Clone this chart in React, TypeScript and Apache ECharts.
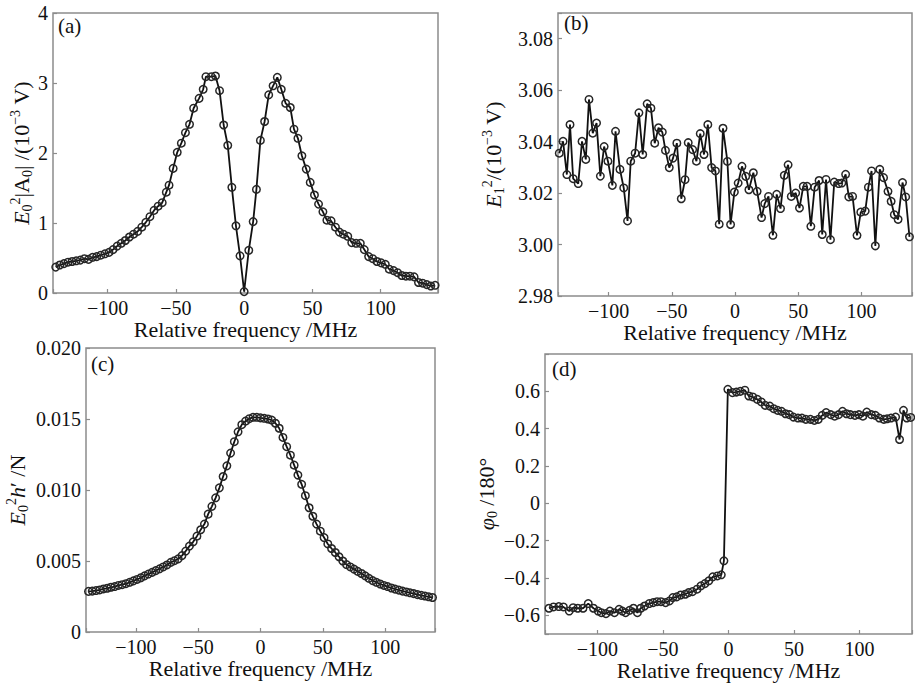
import React, { useEffect, useRef } from "react";
import * as echarts from "echarts";

const FONT = "Liberation Serif";
const GRIDC = "#8c8c8c";
const TXT = "#111";

// Panel (a): E0^2|A0| (10^-3 V) vs relative frequency (MHz)
const panelA: [number, number][] = [
  [-138, 0.37], [-135, 0.4], [-132, 0.42], [-129, 0.44], [-126, 0.45], [-123, 0.46], [-120, 0.47],
  [-117, 0.49], [-114, 0.48], [-111, 0.51], [-108, 0.52], [-105, 0.54], [-102, 0.56], [-99, 0.58],
  [-96, 0.62], [-93, 0.67], [-90, 0.71], [-87, 0.75], [-84, 0.8], [-81, 0.84], [-78, 0.88],
  [-75, 0.94], [-72, 1.01], [-69, 1.09], [-66, 1.18], [-63, 1.24], [-60, 1.29], [-57, 1.44],
  [-55, 1.54], [-52, 1.78], [-49, 2.01], [-46, 2.14], [-43, 2.29], [-40, 2.41], [-37, 2.64],
  [-33, 2.78], [-30, 2.91], [-28, 3.09], [-24, 3.09], [-21, 3.1], [-18, 2.89], [-15, 2.4],
  [-12, 2.11], [-9, 1.51], [-6, 0.96], [-3, 0.53], [0, 0.02], [3.4, 0.61], [6.6, 1.02],
  [9, 1.48], [11.9, 2.18], [15, 2.45], [18, 2.83], [21.2, 2.96], [24.3, 3.08], [27.2, 2.91],
  [30.4, 2.71], [33.8, 2.65], [36.5, 2.34], [39.4, 2.21], [42.3, 1.96], [45.5, 1.77], [48.4, 1.58],
  [51.5, 1.4], [54.5, 1.27], [57.7, 1.16], [60.6, 1.04], [63.7, 1.03], [66.9, 0.94], [69.8, 0.87],
  [72.7, 0.84], [75.9, 0.81], [78.8, 0.72], [82, 0.71], [85.1, 0.71], [88, 0.62], [91.2, 0.52],
  [94.2, 0.49], [97.3, 0.45], [100.4, 0.43], [103.4, 0.41], [106.3, 0.34], [109.5, 0.32],
  [112.4, 0.29], [115.5, 0.25], [118.5, 0.24], [121.4, 0.24], [124.5, 0.23], [127.7, 0.15],
  [130.7, 0.14], [133.8, 0.12], [136.7, 0.1], [139.9, 0.11],
];

// Panel (b): E1^2 (10^-3 V)
const freqB = [
  -139, -136, -133, -130.5, -128, -124, -121, -118, -115.5, -112.5, -109.5, -106.5, -103.5, -100.5,
  -97, -94.5, -91, -88, -85, -82.5, -79, -76, -73, -69.5, -66.5, -63.5, -60.5, -57.5, -55, -52, -49,
  -46, -42.5, -39.5, -37, -33.5, -30.5, -27.5, -24.5, -21.5, -18.5, -15.5, -12.5, -9.5, -6, -3.5,
  -0.5, 2.5, 5.5, 8.5, 11, 14.5, 17.5, 21, 23.5, 26.5, 30, 33, 36, 39, 42, 44.5, 48, 51, 54, 57, 60,
  63, 66.5, 69, 72, 75.5, 78.5, 82, 84.5, 87.5, 90, 93, 96.5, 99.5, 103, 105.5, 108, 111, 114.5,
  117.5, 121, 123.5, 126, 129, 132.5, 135, 138,
];
const valB = [
  3.0355, 3.0401, 3.0272, 3.0466, 3.0256, 3.0237, 3.0401, 3.0331, 3.0564, 3.0433, 3.0472, 3.0266,
  3.0381, 3.0324, 3.023, 3.044, 3.0292, 3.022, 3.0092, 3.0324, 3.0355, 3.0512, 3.035, 3.0547, 3.053,
  3.0394, 3.0454, 3.0437, 3.0366, 3.0299, 3.0336, 3.0394, 3.0178, 3.0252, 3.0396, 3.0369, 3.0324,
  3.0431, 3.035, 3.0466, 3.0299, 3.0286, 3.0079, 3.0452, 3.0323, 3.0078, 3.0204, 3.0239, 3.0304,
  3.0265, 3.0213, 3.0279, 3.0207, 3.0105, 3.0159, 3.0187, 3.0036, 3.0195, 3.014, 3.0269, 3.031,
  3.0187, 3.02, 3.0142, 3.0226, 3.0226, 3.0071, 3.0223, 3.0249, 3.0039, 3.0253, 3.0019, 3.0243,
  3.0237, 3.0239, 3.0273, 3.0185, 3.0187, 3.0036, 3.0126, 3.013, 3.0223, 3.0286, 2.9995, 3.0292,
  3.026, 3.0207, 3.0168, 3.0116, 3.0098, 3.0241, 3.0185, 3.003,
];

// Panel (c): E0^2 h' (V)
const freqC = [
  -138, -135, -132, -129, -126, -123, -120, -117, -114, -111, -108, -105, -102, -99, -96, -93, -90,
  -87, -84, -81, -78, -75, -72, -69, -66, -63, -60, -57, -54, -51, -48, -45, -42, -39, -36, -33, -30,
  -27, -24, -21, -18, -15, -12, -9, -6, -3, 0, 3, 6, 9, 12, 15, 18, 21, 24, 27, 30, 33, 36, 39, 42,
  45, 48, 51, 54, 57, 60, 63, 66, 69, 72, 75, 78, 81, 84, 87, 90, 93, 96, 99, 102, 105, 108, 111,
  114, 117, 120, 123, 126, 129, 132, 135, 138,
];
const valC = [
  0.00286, 0.00288, 0.00292, 0.00296, 0.00303, 0.00308, 0.00315, 0.0032, 0.00328, 0.00333, 0.0034,
  0.0035, 0.0036, 0.0037, 0.00382, 0.00395, 0.00408, 0.0042, 0.00432, 0.00445, 0.00458, 0.00472,
  0.0049, 0.00502, 0.00515, 0.00538, 0.0057, 0.00605, 0.00635, 0.00675, 0.0072, 0.0076, 0.0083,
  0.00885, 0.00945, 0.01015, 0.01095, 0.0117, 0.0126, 0.0134, 0.0141, 0.0146, 0.01485, 0.01502,
  0.01512, 0.01512, 0.01508, 0.01505, 0.015, 0.01492, 0.0147, 0.01435, 0.0137, 0.01305, 0.01245,
  0.01175, 0.01105, 0.0104, 0.0096, 0.00875, 0.00815, 0.0076, 0.0071, 0.00665, 0.0062, 0.00588,
  0.0056, 0.0053, 0.005, 0.00475, 0.00458, 0.00443, 0.00427, 0.00412, 0.00395, 0.00378, 0.00362,
  0.0035, 0.00338, 0.00328, 0.0032, 0.0031, 0.00302, 0.00295, 0.00288, 0.00282, 0.00276, 0.0027,
  0.00263, 0.00258, 0.00253, 0.00248, 0.00243,
];

// Panel (d): phi0 (/180 deg)
const panelD: [number, number][] = [
  [-137, -0.562], [-133.5, -0.555], [-129.5, -0.553], [-126, -0.555], [-121.5, -0.577],
  [-118.5, -0.559], [-115, -0.562], [-111, -0.562], [-107, -0.537], [-103, -0.562], [-99.5, -0.577],
  [-97, -0.586], [-93.5, -0.591], [-90.5, -0.577], [-87, -0.586], [-83.5, -0.568], [-81, -0.577],
  [-78.5, -0.586], [-75.5, -0.573], [-72.5, -0.562], [-69.5, -0.586], [-67, -0.562], [-64, -0.55],
  [-60.5, -0.537], [-57.5, -0.532], [-54.5, -0.527], [-51.5, -0.527], [-48, -0.532], [-45, -0.523],
  [-42.5, -0.505], [-39.5, -0.501], [-36.5, -0.491], [-33, -0.487], [-30.5, -0.478], [-27.5, -0.473],
  [-24, -0.46], [-21, -0.442], [-18, -0.43], [-15, -0.415], [-12, -0.394], [-8.5, -0.389],
  [-5.5, -0.383], [-3.5, -0.308], [-0.5, 0.611], [3, 0.593], [6, 0.596], [9, 0.6], [12.5, 0.606],
  [15.5, 0.575], [18.5, 0.57], [22, 0.557], [25, 0.543], [28, 0.525], [31.5, 0.521], [34.5, 0.507],
  [37.5, 0.498], [40.5, 0.493], [43.5, 0.48], [46.5, 0.475], [49.5, 0.462], [53, 0.457], [56, 0.457],
  [59, 0.45], [62.5, 0.45], [65.5, 0.444], [68.5, 0.45], [71.5, 0.471], [74.5, 0.486], [78, 0.475],
  [81, 0.467], [84, 0.475], [87, 0.493], [90, 0.48], [93, 0.475], [96.5, 0.471], [99.5, 0.475],
  [102.5, 0.467], [105.5, 0.489], [109, 0.475], [112, 0.471], [115, 0.457], [118.5, 0.45],
  [121, 0.453], [124, 0.457], [127.5, 0.462], [130.5, 0.342], [133.5, 0.498], [136, 0.457], [139, 0.46],
];

const panelLabels = ["(a)", "(b)", "(c)", "(d)"];
const xTitle = "Relative frequency /MHz";

const minus = (s: string) => s.replace("-", "\u2212");

const fx = (v: number) => {
  if (Math.abs(v % 50) > 1e-6) return "";
  return minus(String(v));
};
const fyA = (v: number) => String(Math.round(v));
const fyB = (v: number) => {
  const k = Math.round(v * 100);
  if (k % 2 !== 0) return "";
  return v.toFixed(2);
};
const fyC = (v: number) => (Math.abs(v) < 1e-9 ? "0" : v.toFixed(3));
const fyD = (v: number) => {
  const k = Math.round(v * 10);
  if (k % 2 !== 0 || k === 8) return "";
  if (k === 0) return "0";
  return minus(v.toFixed(1));
};

const rich = {
  i: { fontFamily: FONT, fontSize: 22, fontStyle: "italic", color: TXT, lineHeight: 26, verticalAlign: "middle" },
  n: { fontFamily: FONT, fontSize: 22, color: TXT, lineHeight: 26, verticalAlign: "middle" },
  sup: { fontFamily: FONT, fontSize: 14, color: TXT, verticalAlign: "top" },
  sub: { fontFamily: FONT, fontSize: 14, color: TXT, verticalAlign: "bottom" },
};

const zip = (a: number[], b: number[]) => a.map((x, i) => [x, b[i]]);

export default function App() {
  const ref = useRef<HTMLDivElement>(null);
  useEffect(() => {
    if (!ref.current) return;
    const chart = echarts.init(ref.current, undefined, { renderer: "svg" });

    const grids = [
      { left: 53, top: 13, width: 385, height: 280 },
      { left: 558, top: 13, width: 362, height: 283 },
      { left: 86, top: 348, width: 349, height: 284 },
      { left: 545, top: 354, width: 375, height: 280 },
    ].map((g) => ({ ...g, show: true, borderColor: GRIDC, borderWidth: 1.5, containLabel: false }));

    const xRanges = [
      [-140, 142],
      [-140, 140],
      [-140, 140],
      [-140, 140],
    ];
    const tick = { show: true, inside: true, length: 4, lineStyle: { color: GRIDC, width: 1.2 } };
    const xAxes = xRanges.map((r, i) => ({
      type: "value",
      gridIndex: i,
      position: "bottom",
      min: r[0],
      max: r[1],
      name: xTitle,
      nameLocation: "middle",
      nameGap: 25,
      nameTextStyle: { fontFamily: FONT, fontSize: 22, color: TXT },
      axisLine: { show: false, onZero: false },
      axisTick: tick,
      axisLabel: { fontFamily: FONT, fontSize: 20, color: TXT, margin: 5, formatter: fx },
      splitLine: { show: false },
    }));

    const yBase = (i: number) => ({
      type: "value",
      gridIndex: i,
      position: "left",
      nameLocation: "middle",
      nameRotate: 90,
      axisLine: { show: false, onZero: false },
      axisTick: tick,
      splitLine: { show: false },
    });
    const lab = (f: (v: number) => string) => ({ fontFamily: FONT, fontSize: 20, color: TXT, margin: 5, formatter: f });

    const yAxes = [
      {
        ...yBase(0), min: 0, max: 4, interval: 1, axisLabel: lab(fyA),
        name: "{i|E}{sub|0}{sup|2}{n||A}{sub|0}{n|| /(10}{sup|\u22123}{n| V)}",
        nameGap: 16, nameTextStyle: { fontFamily: FONT, fontSize: 22, color: TXT, rich },
      },
      {
        ...yBase(1), min: 2.98, max: 3.09, interval: 0.02, axisLabel: lab(fyB),
        name: "{i|E}{sub|1}{sup|2}{n|/(10}{sup|\u22123}{n| V)}",
        nameGap: 52, nameTextStyle: { fontFamily: FONT, fontSize: 22, color: TXT, rich },
      },
      {
        ...yBase(2), min: 0, max: 0.02, interval: 0.005, axisLabel: lab(fyC),
        name: "{i|E}{sub|0}{sup|2}{i|h}{n|\u2032 /N}",
        nameGap: 56, nameTextStyle: { fontFamily: FONT, fontSize: 22, color: TXT, rich },
      },
      {
        ...yBase(3), min: -0.7, max: 0.8, splitNumber: 7, axisLabel: lab(fyD),
        name: "{i|\u03c6}{sub|0}{n| /180\u00b0}",
        nameGap: 41, nameTextStyle: { fontFamily: FONT, fontSize: 22, color: TXT, rich },
      },
    ];

    const datasets = [panelA, zip(freqB, valB), zip(freqC, valC), panelD];
    const series = datasets.map((d, i) => ({
      type: "line",
      xAxisIndex: i,
      yAxisIndex: i,
      data: d,
      symbol: "circle",
      symbolSize: 7.5,
      showAllSymbol: true,
      clip: true,
      lineStyle: { color: "#111", width: 1.8 },
      itemStyle: { color: "rgba(255,255,255,0)", borderColor: "#262626", borderWidth: 1.5 },
      emphasis: { disabled: true },
    }));

    const labelPos = [
      [58, 15],
      [564, 12],
      [91, 353],
      [552, 358],
    ];
    const graphic = panelLabels.map((t, i) => ({
      type: "text",
      left: labelPos[i][0],
      top: labelPos[i][1],
      style: { text: t, fontFamily: FONT, fontSize: 21, fill: TXT },
      z: 10,
    }));

    chart.setOption({
      animation: false,
      backgroundColor: "#fff",
      textStyle: { fontFamily: FONT },
      grid: grids,
      xAxis: xAxes,
      yAxis: yAxes,
      series,
      graphic,
    } as any);

    return () => chart.dispose();
  }, []);

  return (
    <div
      ref={ref}
      style={{ position: "absolute", left: 0, top: 0, width: 915, height: 687, background: "#fff" }}
    />
  );
}
